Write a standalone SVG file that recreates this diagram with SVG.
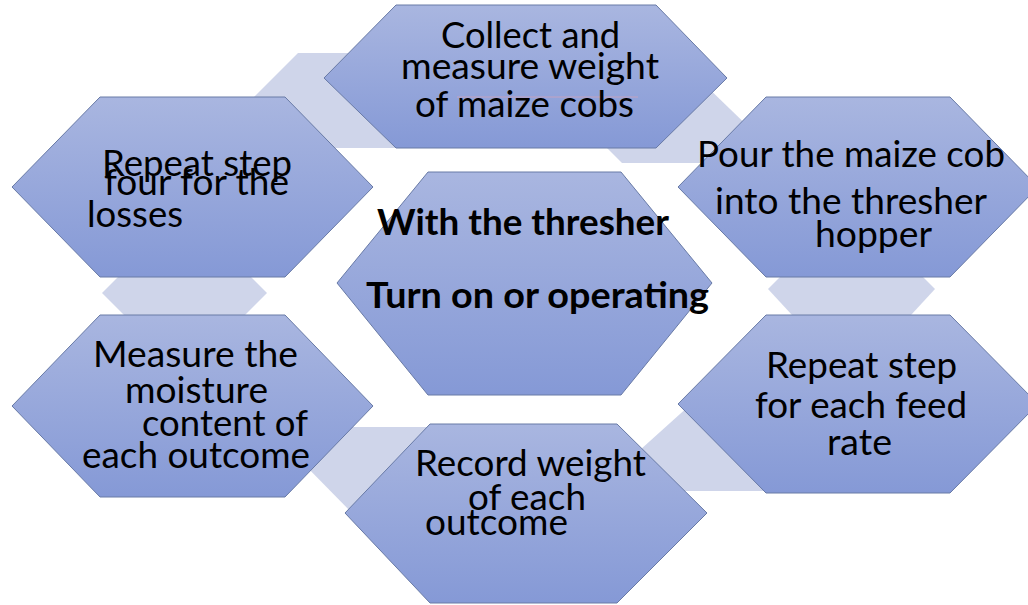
<svg xmlns="http://www.w3.org/2000/svg" width="1028" height="605" viewBox="0 0 1028 605">
<defs>
<linearGradient id="hexfill" x1="0" y1="0" x2="0" y2="1">
<stop offset="0" stop-color="#a9b6e0"/>
<stop offset="1" stop-color="#8599d6"/>
</linearGradient>
<style>
.hex{fill:url(#hexfill);stroke:#687aa6;stroke-width:1}
.band{fill:#cfd5ea;stroke:none}
text{font-family:Lato,"Liberation Sans",sans-serif;font-size:36px;fill:#000}
.b{font-weight:700}
</style>
</defs>
<rect width="1028" height="605" fill="#ffffff"/>
<g id="connectors">
<polygon class="band" points="298,53 370,53 380,100 396,148 300,148 254,97"/>
<polygon class="band" points="622,163 600,141 640,80 700,80 760,138 750,163"/>
<polygon class="band" points="768,289 792,265 911,265 935,289 911,315 792,315"/>
<polygon class="band" points="102,293 124,271 245,271 267,293 245,315 124,315"/>
<polygon class="band" points="300,427 440,427 450,480 355,516 300,460"/>
<polygon class="band" points="620,468 700,396 790,420 780,491 640,491"/>
</g>
<g id="n1">
<polygon class="hex" points="324,78 396,5 656,5 727,78 656,148 396,148"/>
<text x="441" y="48" textLength="179" lengthAdjust="spacingAndGlyphs">Collect and</text>
<text x="401" y="79" textLength="258" lengthAdjust="spacingAndGlyphs">measure weight</text>
<line x1="457" y1="97" x2="638" y2="97" stroke="#d9a3b8" stroke-width="0.7"/>
<text x="415" y="117" textLength="219" lengthAdjust="spacingAndGlyphs">of maize cobs</text>
</g>
<g id="n2">
<polygon class="hex" points="12,187 100,97 285,97 373,187 285,277 100,277"/>
<text x="102" y="176" textLength="190" lengthAdjust="spacingAndGlyphs">Repeat step</text>
<text x="104" y="195" textLength="185" lengthAdjust="spacingAndGlyphs">four for the</text>
<text x="87" y="227" textLength="96" lengthAdjust="spacingAndGlyphs">losses</text>
</g>
<g id="n3">
<polygon class="hex" points="678,187 766,97 950,97 1038,187 950,277 766,277"/>
<text x="697" y="167" textLength="308" lengthAdjust="spacingAndGlyphs">Pour the maize cob</text>
<text x="715" y="214" textLength="272" lengthAdjust="spacingAndGlyphs">into the thresher</text>
<text x="815" y="247" textLength="117" lengthAdjust="spacingAndGlyphs">hopper</text>
</g>
<g id="n0">
<polygon class="hex" points="337,283 428,172 621,172 712,283 621,395 428,395"/>
<text class="b" x="377" y="235" textLength="292" lengthAdjust="spacingAndGlyphs">With the thresher</text>
<text class="b" x="366" y="308" textLength="343" lengthAdjust="spacingAndGlyphs">Turn on or operating</text>
</g>
<g id="n5">
<polygon class="hex" points="12,406 100,315 285,315 373,406 285,497 100,497"/>
<text x="93" y="367" textLength="205" lengthAdjust="spacingAndGlyphs">Measure the</text>
<text x="125" y="403" textLength="143" lengthAdjust="spacingAndGlyphs">moisture</text>
<text x="142" y="436" textLength="166" lengthAdjust="spacingAndGlyphs">content of</text>
<text x="82" y="468" textLength="228" lengthAdjust="spacingAndGlyphs">each outcome</text>
</g>
<g id="n4">
<polygon class="hex" points="345,513 430,424 617,424 707,513 617,603 430,603"/>
<text x="415" y="476" textLength="231" lengthAdjust="spacingAndGlyphs">Record weight</text>
<text x="468" y="510" textLength="118" lengthAdjust="spacingAndGlyphs">of each</text>
<text x="425" y="535" textLength="143" lengthAdjust="spacingAndGlyphs">outcome</text>
</g>
<g id="n6">
<polygon class="hex" points="678,404 766,315 950,315 1038,404 950,493 766,493"/>
<text x="766" y="378" textLength="191" lengthAdjust="spacingAndGlyphs">Repeat step</text>
<text x="755" y="418" textLength="212" lengthAdjust="spacingAndGlyphs">for each feed</text>
<text x="827" y="455" textLength="65" lengthAdjust="spacingAndGlyphs">rate</text>
</g>
</svg>
